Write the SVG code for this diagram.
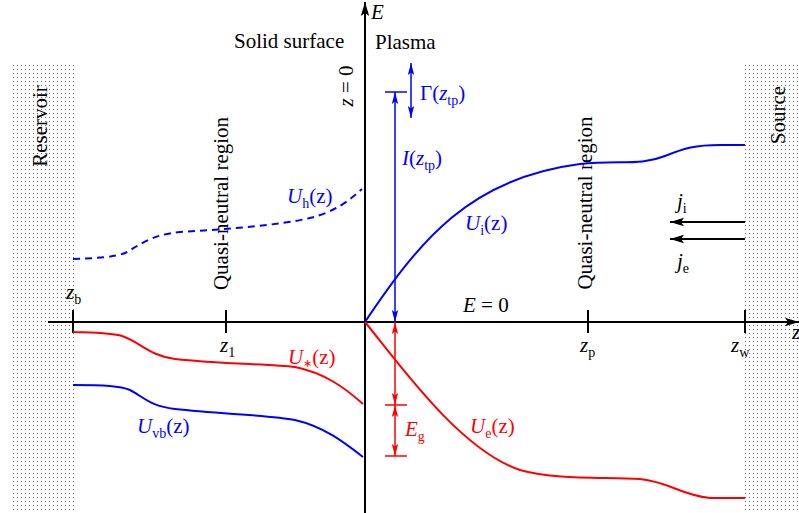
<svg xmlns="http://www.w3.org/2000/svg" width="799" height="513" viewBox="0 0 799 513">
<style>
.t{font-family:"Liberation Serif","Times New Roman",serif;font-size:21px;fill:#000}
.i{font-style:italic}
.s{font-size:14px}
.b{fill:#0000ff}
.r{fill:#ff0000}
.ax{stroke:#000;stroke-width:2;fill:none}
.cb{stroke:#0000ff;stroke-width:2;fill:none}
.cr{stroke:#ff0000;stroke-width:2;fill:none}
.db{stroke:#0000ff;stroke-width:1.5;fill:none}
.dr{stroke:#ff0000;stroke-width:1.5;fill:none}
</style>
<defs>
<pattern id="dots" x="0" y="0" width="4" height="4" patternUnits="userSpaceOnUse">
<rect x="1" y="1" width="1" height="1" fill="#666"/>
</pattern>
<marker id="ak" markerUnits="userSpaceOnUse" markerWidth="14" markerHeight="10" refX="14" refY="5" orient="auto-start-reverse">
<path d="M0,0.8 L14,5 L0,9.2 L3,5 z" fill="#000"/>
</marker>
<marker id="ab" markerUnits="userSpaceOnUse" markerWidth="12" markerHeight="8" refX="12" refY="4" orient="auto-start-reverse">
<path d="M0,0.8 L12,4 L0,7.2 L2.5,4 z" fill="#0000ff"/>
</marker>
<marker id="ar" markerUnits="userSpaceOnUse" markerWidth="12" markerHeight="8" refX="12" refY="4" orient="auto-start-reverse">
<path d="M0,0.8 L12,4 L0,7.2 L2.5,4 z" fill="#ff0000"/>
</marker>
</defs>

<g id="reservoir">
<rect x="11" y="65" width="63" height="448" fill="url(#dots)"/>
<text class="t" transform="translate(47,126) rotate(-90)" text-anchor="middle">Reservoir</text>
</g>
<g id="source">
<rect x="745" y="65" width="54" height="448" fill="url(#dots)"/>
<text class="t" transform="translate(785,115) rotate(-90)" text-anchor="middle">Source</text>
</g>

<g id="axes">
<line class="ax" x1="365" y1="513" x2="365" y2="2" marker-end="url(#ak)"/>
<line class="ax" x1="48" y1="322" x2="799" y2="322" marker-end="url(#ak)"/>
<line class="ax" x1="73" y1="310" x2="73" y2="333"/>
<line class="ax" x1="226" y1="310" x2="226" y2="333"/>
<line class="ax" x1="588" y1="310" x2="588" y2="333"/>
<line class="ax" x1="745" y1="310" x2="745" y2="333"/>
<text class="t i" x="371" y="19">E</text>
<text class="t i" x="792" y="339">z</text>
<text class="t" x="463" y="312"><tspan class="i">E</tspan> = 0</text>
<text class="t" transform="translate(353,86) rotate(-90)" text-anchor="middle"><tspan class="i">z</tspan> = 0</text>
<text class="t" x="66" y="299"><tspan class="i">z</tspan><tspan class="s" dy="5">b</tspan></text>
<text class="t" x="220" y="352"><tspan class="i">z</tspan><tspan class="s" dy="5">1</tspan></text>
<text class="t" x="580" y="352"><tspan class="i">z</tspan><tspan class="s" dy="5">p</tspan></text>
<text class="t" x="731" y="352"><tspan class="i">z</tspan><tspan class="s" dy="5">w</tspan></text>
</g>

<g id="labels">
<text class="t" x="234" y="48">Solid surface</text>
<text class="t" x="375" y="49">Plasma</text>
<text class="t" transform="translate(228,203.5) rotate(-90)" text-anchor="middle">Quasi-neutral region</text>
<text class="t" transform="translate(592,203) rotate(-90)" text-anchor="middle">Quasi-neutral region</text>
</g>

<g id="curves">
<path class="cb" stroke-dasharray="7,5" d="M73,259 C100,258 115,257 125,253 C140,245 150,235 180,232 C230,229 280,225 310,218 C335,212 350,200 362,189"/>
<path class="cb" d="M365,322 C420,240 470,178 580,164 C620,160 640,166 665,156 C685,148 695,145 720,145 L745,145"/>
<path class="cr" d="M73,332 C100,333 112,333 122,336 C140,342 150,356 175,359 C220,364 270,364 295,367 C325,373 345,388 363,404"/>
<path class="cb" d="M73,385 C105,385 120,386 130,390 C145,398 150,406 175,409 C220,414 270,415 295,420 C325,427 345,443 363,457"/>
<path class="cr" d="M365,322 C400,365 460,450 520,470 C555,480 600,477 640,479 C670,482 680,495 710,498 L745,498"/>
<text class="t b" x="287" y="203"><tspan class="i">U</tspan><tspan class="s" dy="5">h</tspan><tspan dy="-5">(z)</tspan></text>
<text class="t b" x="465" y="230"><tspan class="i">U</tspan><tspan class="s" dy="5">i</tspan><tspan dy="-5">(z)</tspan></text>
<text class="t r" x="288" y="364"><tspan class="i">U</tspan><tspan style="font-size:11px" dy="3">∗</tspan><tspan dy="-3">(z)</tspan></text>
<text class="t b" x="137" y="433"><tspan class="i">U</tspan><tspan class="s" dy="5">vb</tspan><tspan dy="-5">(z)</tspan></text>
<text class="t r" x="470" y="433"><tspan class="i">U</tspan><tspan class="s" dy="5">e</tspan><tspan dy="-5">(z)</tspan></text>
</g>

<g id="dimensions">
<line class="db" x1="395" y1="92" x2="395" y2="322" marker-start="url(#ab)" marker-end="url(#ab)"/>
<line class="db" x1="385" y1="92" x2="407" y2="92"/>
<line class="db" x1="411" y1="63" x2="411" y2="118" marker-start="url(#ab)" marker-end="url(#ab)"/>
<text class="t b" x="420" y="100">Γ(<tspan class="i">z</tspan><tspan class="s" dy="5">tp</tspan><tspan dy="-5">)</tspan></text>
<text class="t b" x="402" y="165"><tspan class="i">I</tspan>(<tspan class="i">z</tspan><tspan class="s" dy="5">tp</tspan><tspan dy="-5">)</tspan></text>
<line class="dr" x1="395" y1="322" x2="395" y2="405" marker-start="url(#ar)" marker-end="url(#ar)"/>
<line class="dr" x1="385" y1="405" x2="407" y2="405"/>
<line class="dr" x1="395" y1="405" x2="395" y2="456" marker-start="url(#ar)" marker-end="url(#ar)"/>
<line class="dr" x1="385" y1="456" x2="407" y2="456"/>
<text class="t r" x="405" y="436"><tspan class="i">E</tspan><tspan class="s" dy="5">g</tspan></text>
</g>

<g id="currents">
<line class="ax" x1="745" y1="222" x2="670" y2="222" marker-end="url(#ak)"/>
<line class="ax" x1="745" y1="239" x2="670" y2="239" marker-end="url(#ak)"/>
<text class="t" x="677" y="208"><tspan class="i">j</tspan><tspan class="s" dy="5">i</tspan></text>
<text class="t" x="677" y="268"><tspan class="i">j</tspan><tspan class="s" dy="5">e</tspan></text>
</g>
</svg>
